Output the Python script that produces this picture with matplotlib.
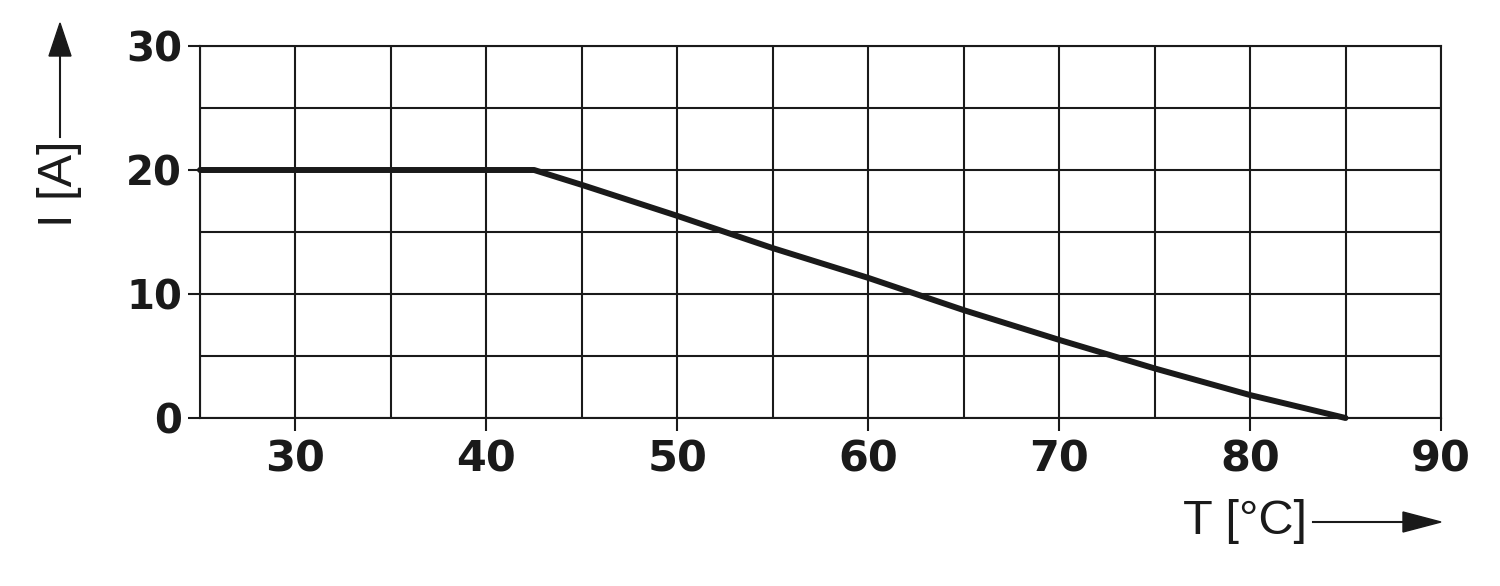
import matplotlib
matplotlib.use("Agg")
import matplotlib.pyplot as plt
from matplotlib.lines import Line2D
from matplotlib.patches import Polygon

# Data
temperature = [25, 42.5, 45, 50, 55, 60, 65, 70, 75, 80, 85]
current = [20, 20, 18.8, 16.3, 13.7, 11.3, 8.7, 6.3, 4.0, 1.85, 0]
x_ticks = [30, 40, 50, 60, 70, 80, 90]
y_ticks = [0, 10, 20, 30]
x_label = "T [°C]"
y_label = "I [A]"

W, H = 1500, 586
plt.rcParams['font.family'] = ['Liberation Sans', 'DejaVu Sans']
fig = plt.figure(figsize=(15, 5.86), dpi=100)

ax = fig.add_axes([200 / W, 1 - 418 / H, 1241 / W, 372 / H])
ax.set_xlim(25, 90)
ax.set_ylim(0, 30)

col = '#1a1a1a'
# grid every 5
for gx in range(25, 91, 5):
    ax.axvline(gx, color=col, lw=1.5, zorder=1)
for gy in range(0, 31, 5):
    ax.axhline(gy, color=col, lw=1.5, zorder=1)
for s in ax.spines.values():
    s.set_color(col)
    s.set_linewidth(1.5)

ax.set_xticks(x_ticks)
ax.set_yticks(y_ticks)
ax.set_xticklabels([str(v) for v in x_ticks])
ax.set_yticklabels([str(v) for v in y_ticks])
ax.tick_params(axis='both', direction='out', length=9, width=1.5, color=col,
               labelcolor=col)
ax.tick_params(axis='x', pad=6)
ax.tick_params(axis='y', pad=4)
for lab in ax.get_xticklabels():
    lab.set_fontfamily('DejaVu Sans')
    lab.set_fontweight('bold')
    lab.set_fontsize(31)
for lab in ax.get_yticklabels():
    lab.set_fontfamily('DejaVu Sans')
    lab.set_fontweight('bold')
    lab.set_fontsize(29)

ax.plot(temperature, current, color=col, lw=4.3, solid_capstyle='round',
        solid_joinstyle='round', clip_on=False, zorder=3)

# axis labels with arrows (pixel positions measured from the top-left)
def fp(x, y):
    return x / W, 1 - y / H

fig.text(*fp(1183, 521), x_label, fontsize=35, ha='left', va='center', color=col,
         family=['Liberation Sans', 'DejaVu Sans'])
fig.add_artist(Line2D([fp(1313, 522)[0], fp(1405, 522)[0]],
                      [fp(1313, 522)[1], fp(1405, 522)[1]], color=col, lw=1.5))
fig.add_artist(Polygon([fp(1403, 512), fp(1441, 522), fp(1403, 532)],
                       closed=True, color=col, transform=fig.transFigure))

fig.text(*fp(60, 184), y_label, fontsize=35, rotation=90, ha='center', va='center',
         color=col, family=['Liberation Sans', 'DejaVu Sans'])
fig.add_artist(Line2D([fp(60, 137)[0], fp(60, 54)[0]],
                      [fp(60, 137)[1], fp(60, 54)[1]], color=col, lw=1.5))
fig.add_artist(Polygon([fp(49, 56), fp(60, 23), fp(71, 56)],
                       closed=True, color=col, transform=fig.transFigure))

fig.savefig("out.png", dpi=100)
